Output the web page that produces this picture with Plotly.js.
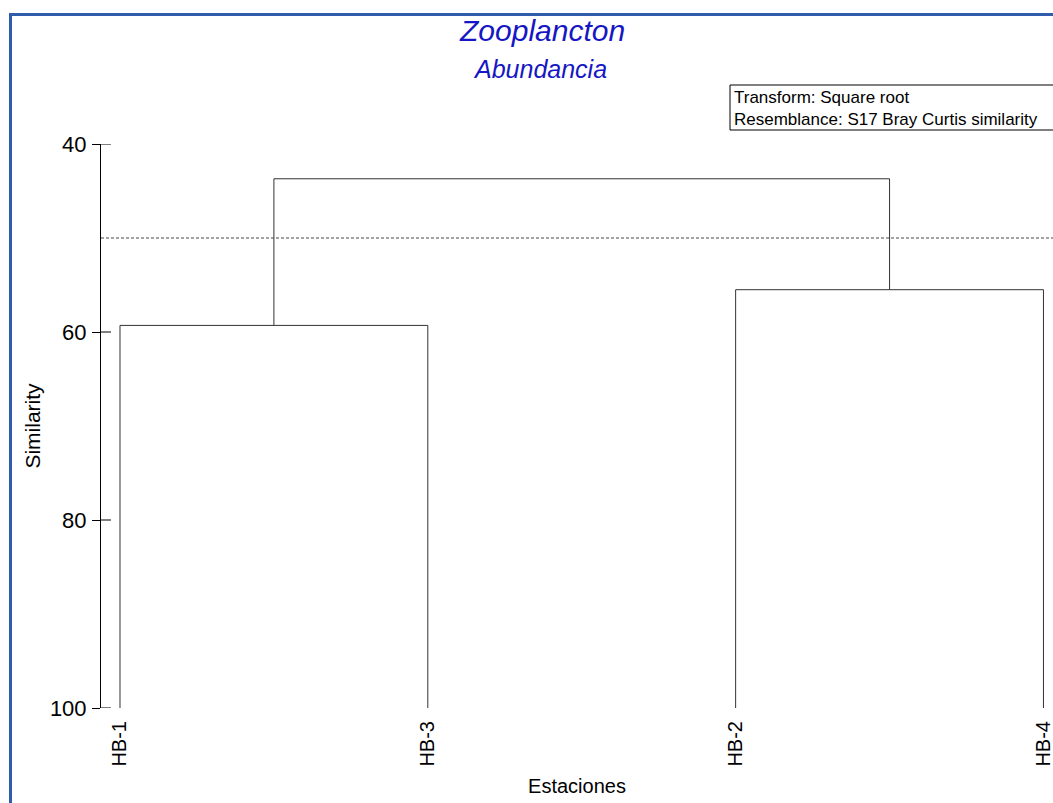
<!DOCTYPE html>
<html>
<head>
<meta charset="utf-8">
<script src="https://cdn.plot.ly/plotly-3.0.1.min.js"></script>
<style>
  html, body { margin: 0; padding: 0; background: #fff; overflow: hidden; }
  #wrap { position: relative; width: 1053px; height: 803px; }
  #chart { width: 1053px; height: 803px; }
  #frame { position: absolute; left: 9px; top: 13px; width: 1100px; height: 900px;
           border-left: 3px solid #2f5cab; border-top: 3px solid #2f5cab; pointer-events: none; }
</style>
</head>
<body>
<div id="wrap">
  <div id="chart"></div>
  <div id="frame"></div>
</div>
<script>
// ---- data ----
const leafLabels = ['HB-1', 'HB-3', 'HB-2', 'HB-4'];
// nodes 0..3 are leaves, 4.. are clusters in merge order
const mergeLeft = [0, 2, 4];
const mergeRight = [1, 3, 5];
const mergeSimilarity = [59.3, 55.5, 43.7];
const cutSimilarity = 50;
const yTicks = [40, 60, 80, 100];
const titleMain = 'Zooplancton';
const titleSub = 'Abundancia';
const infoLines = ['Transform: Square root', 'Resemblance: S17 Bray Curtis similarity'];

// ---- build dendrogram path from merges ----
const nodeX = leafLabels.map((_, i) => i);
const nodeY = leafLabels.map(() => 100);
const dx = [], dy = [];
mergeLeft.forEach((l, k) => {
  const r = mergeRight[k], h = mergeSimilarity[k];
  dx.push(nodeX[l], nodeX[l], nodeX[r], nodeX[r], null);
  dy.push(nodeY[l], h, h, nodeY[r], null);
  nodeX.push((nodeX[l] + nodeX[r]) / 2);
  nodeY.push(h);
});

const font = 'Liberation Sans, Arial, sans-serif';

const traces = [{
  x: dx, y: dy, type: 'scatter', mode: 'lines',
  line: { color: '#333', width: 1 }, hoverinfo: 'skip', showlegend: false
}];

const L = 101, W = 1053, T = 144, B = 708;
const pw = W - L, ph = B - T;
const px = p => (p - L) / pw;
const py = p => (B - p) / ph;

// inside half of the crossing y ticks
const insideTicks = yTicks.map(v => ({
  type: 'line', xref: 'paper', yref: 'y', x0: 0, x1: 10 / pw, y0: v, y1: v,
  line: { color: '#000', width: 1 }
}));

const layout = {
  width: 1053, height: 803,
  margin: { l: L, r: 0, t: T, b: 803 - B, pad: 0 },
  paper_bgcolor: '#fff', plot_bgcolor: '#fff',
  showlegend: false,
  font: { family: font, color: '#000' },
  xaxis: {
    range: [-0.0617, 3.031],
    tickvals: leafLabels.map((_, i) => i),
    ticktext: leafLabels,
    tickangle: -90,
    ticks: '', showline: false, showgrid: false, zeroline: false,
    ticklabelstandoff: 8,
    ticklabeloverflow: 'allow',
    tickfont: { size: 20, family: font, color: '#000' },
    title: { text: 'Estaciones', font: { size: 20, family: font, color: '#000' }, standoff: 13 }
  },
  yaxis: {
    range: [100, 40],
    tickvals: yTicks,
    ticks: 'outside', ticklen: 8, tickcolor: '#000', tickwidth: 1,
    showline: true, linecolor: '#000', linewidth: 1,
    showgrid: false, zeroline: false,
    ticklabelstandoff: 1,
    tickfont: { size: 22, family: font, color: '#000' },
    title: { text: 'Similarity', font: { size: 21, family: font, color: '#000' }, standoff: 3 }
  },
  shapes: insideTicks.concat([
    { type: 'line', xref: 'paper', yref: 'y', x0: 0, x1: 1, y0: cutSimilarity, y1: cutSimilarity,
      line: { color: '#444', width: 1, dash: '3px,2px' } },
    { type: 'rect', xref: 'paper', yref: 'paper', x0: px(730), x1: 1.05, y0: py(130), y1: py(85),
      line: { color: '#000', width: 1 }, fillcolor: 'rgba(0,0,0,0)' }
  ]),
  annotations: [
    { text: '<i>' + titleMain + '</i>', xref: 'paper', yref: 'paper', x: px(542), y: py(31),
      xanchor: 'center', yanchor: 'middle', showarrow: false,
      font: { size: 30, family: font, color: '#1616c4' } },
    { text: '<i>' + titleSub + '</i>', xref: 'paper', yref: 'paper', x: px(540), y: py(69),
      xanchor: 'center', yanchor: 'middle', showarrow: false,
      font: { size: 25, family: font, color: '#1616c4' } },
    { text: infoLines.join('<br>'), xref: 'paper', yref: 'paper', x: px(732), y: py(108),
      xanchor: 'left', yanchor: 'middle', align: 'left', showarrow: false,
      font: { size: 17, family: font, color: '#000' } }
  ]
};

Plotly.newPlot('chart', traces, layout, { displayModeBar: false, staticPlot: true });
</script>
</body>
</html>
